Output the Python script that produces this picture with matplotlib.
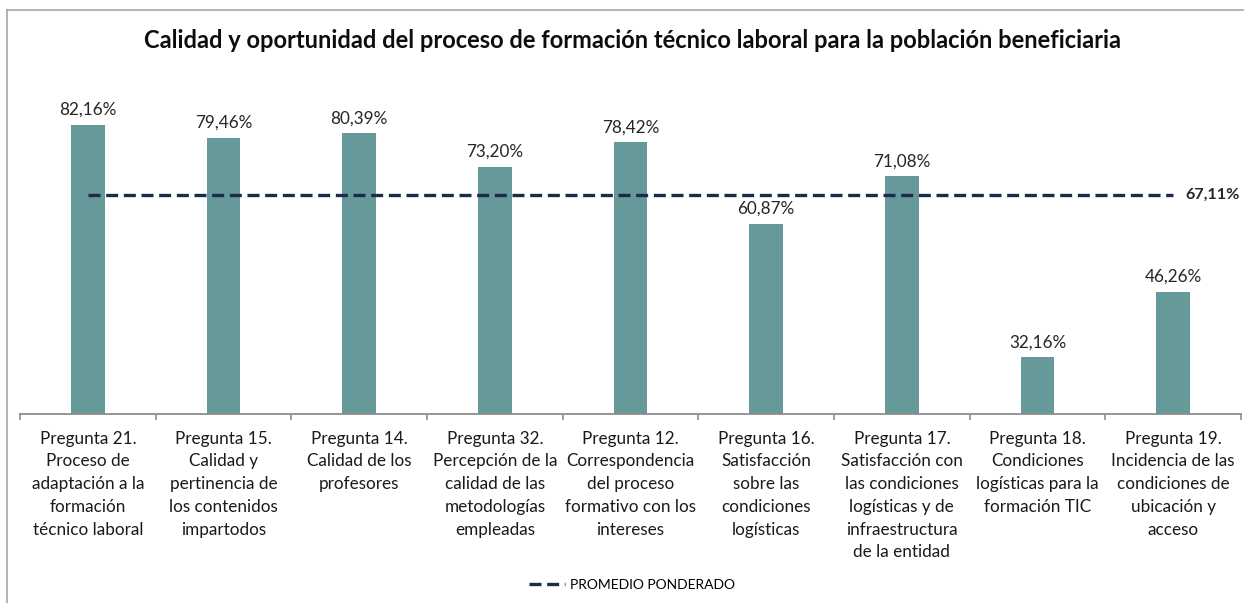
import matplotlib
matplotlib.use("Agg")
import matplotlib.pyplot as plt
from matplotlib.lines import Line2D

plt.rcParams['font.family'] = ['Lato', 'DejaVu Sans']

categories = [
    "Pregunta 21.\nProceso de\nadaptación a la\nformación\ntécnico laboral",
    "Pregunta 15.\nCalidad y\npertinencia de\nlos contenidos\nimpartodos",
    "Pregunta 14.\nCalidad de los\nprofesores",
    "Pregunta 32.\nPercepción de la\ncalidad de las\nmetodologías\nempleadas",
    "Pregunta 12.\nCorrespondencia\ndel proceso\nformativo con los\nintereses",
    "Pregunta 16.\nSatisfacción\nsobre las\ncondiciones\nlogísticas",
    "Pregunta 17.\nSatisfacción con\nlas condiciones\nlogísticas y de\ninfraestructura\nde la entidad",
    "Pregunta 18.\nCondiciones\nlogísticas para la\nformación TIC",
    "Pregunta 19.\nIncidencia de las\ncondiciones de\nubicación y\nacceso",
]
values = [82.16, 79.46, 80.39, 73.20, 78.42, 60.87, 71.08, 32.16, 46.26]
promedio = 67.11
title = "Calidad y oportunidad del proceso de formación técnico laboral para la población beneficiaria"
legend_label = "PROMEDIO PONDERADO"

W, H = 1244, 603
fig = plt.figure(figsize=(W / 100, H / 100), dpi=100)
fig.patch.set_facecolor("white")

# chart frame (left and top edges visible)
fig.add_artist(Line2D([7 / W, 7 / W], [0, 1 - 10 / H], color="#a6a6a6", lw=1.2))
fig.add_artist(Line2D([7 / W, 1], [1 - 10 / H, 1 - 10 / H], color="#a6a6a6", lw=1.2))

ax = fig.add_axes([20 / W, (H - 414) / H, (1241 - 20) / W, (414 - 42) / H])
x = list(range(len(values)))
bars = ax.bar(x, values, width=0.25, color="#669999", zorder=2)
ax.set_ylim(20, 100)
ax.set_xlim(-0.5, len(values) - 0.5)

for xi, v in zip(x, values):
    ax.annotate(f"{v:.2f}%".replace(".", ","), (xi, v), xytext=(0, 5),
                textcoords="offset points", ha="center", va="bottom",
                fontsize=12.3, color="#262626")

line, = ax.plot([x[0], x[-1]], [promedio, promedio], color="#1b2b48", lw=2.4,
                dashes=(3.6, 1.7), zorder=3, label=legend_label)
ax.annotate(f"{promedio:.2f}%".replace(".", ","), (x[-1], promedio), xytext=(9, 0),
            textcoords="offset points", ha="left", va="center",
            fontsize=11.6, fontweight="bold", color="#262626", annotation_clip=False)

for s in ["top", "right", "left"]:
    ax.spines[s].set_visible(False)
ax.spines["bottom"].set_color("#8c8c8c")
ax.spines["bottom"].set_linewidth(1.3)
ax.set_yticks([])

ax.set_xticks([i - 0.5 for i in range(len(values) + 1)])
ax.set_xticklabels([])
ax.tick_params(axis="x", which="major", length=4, color="#8c8c8c", width=1.2)
ax.set_xticks(x, minor=True)
ax.set_xticklabels(categories, minor=True, fontsize=12.3, color="#1a1a1a", linespacing=1.52)
ax.tick_params(axis="x", which="minor", length=0, pad=12)

fig.text(632 / W, 1 - 40 / H, title, ha="center", va="center", fontsize=17,
         fontweight="bold", color="#0d0d0d")

leg = fig.legend(handles=[line], loc="center", bbox_to_anchor=(632 / W, 1 - 585 / H),
                 frameon=False, fontsize=10, handlelength=2.6, handletextpad=0.4)

fig.savefig("out.png", dpi=100, facecolor="white")
